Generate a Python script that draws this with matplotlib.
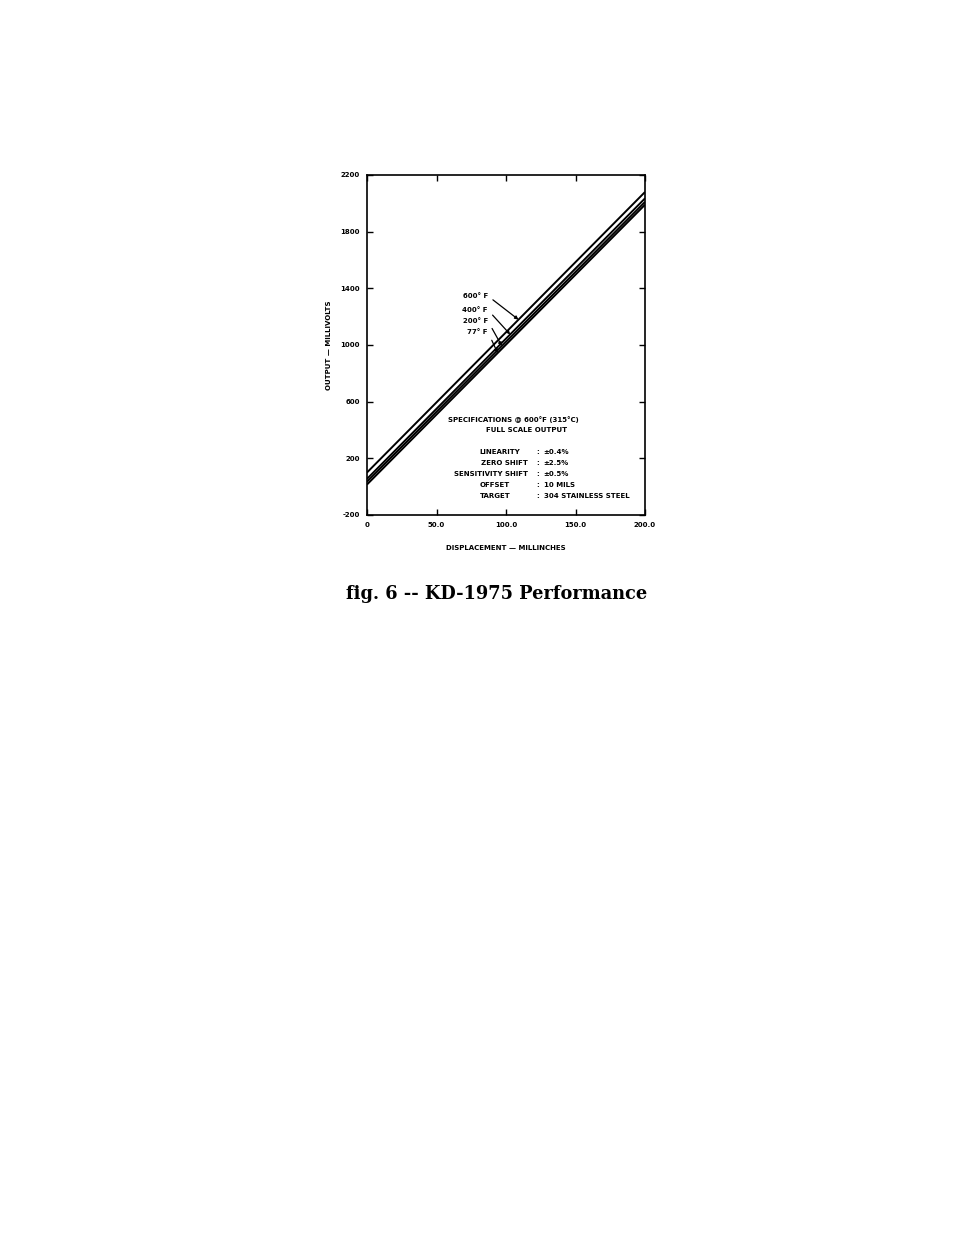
import numpy as np
import matplotlib.pyplot as plt

plt.rcParams['axes.unicode_minus'] = False

# output vs displacement at four temperatures
temps = ['600° F', '400° F', '200° F', '77° F']
disp = [0.0, 200.0]
out_600 = [100, 2080]
out_400 = [55, 2035]
out_200 = [35, 2010]
out_77 = [15, 1990]
# where each label arrow touches its line
arrow_x = [109, 103, 97, 94]
label_y = [1346, 1247, 1169, 1092]

xticks = [0, 50, 100, 150, 200]
xticklabels = ['0', '50.0', '100.0', '150.0', '200.0']
yticks = [-200, 200, 600, 1000, 1400, 1800, 2200]

spec_rows = [('LINEARITY', '±0.4%'),
             ('ZERO SHIFT', '±2.5%'),
             ('SENSITIVITY SHIFT', '±0.5%'),
             ('OFFSET', '10 MILS'),
             ('TARGET', '304 STAINLESS STEEL')]

fig = plt.figure(figsize=(9.54, 12.35), dpi=100)
ax = fig.add_axes([0.3847, 0.583, 0.2914, 0.2753])

series = [out_600, out_400, out_200, out_77]
for ys in series:
    ax.plot(disp, ys, color='black', lw=1.4, solid_capstyle='butt')

ax.set_xlim(0, 200)
ax.set_ylim(-200, 2200)
ax.set_xticks(xticks)
ax.set_xticklabels(xticklabels)
ax.set_yticks(yticks)
ax.tick_params(direction='in', length=4, width=1, top=True, right=True,
               labelsize=5, pad=5)
for lab in ax.get_xticklabels() + ax.get_yticklabels():
    lab.set_fontweight('bold')
for sp in ax.spines.values():
    sp.set_linewidth(1.2)

ax.set_xlabel('DISPLACEMENT — MILLINCHES', fontsize=5, fontweight='bold', labelpad=12)
ax.set_ylabel('OUTPUT — MILLIVOLTS', fontsize=5, fontweight='bold', labelpad=6)

# temperature labels with arrows
for name, ys, xa, yl in zip(temps, series, arrow_x, label_y):
    ya = ys[0] + (ys[1] - ys[0]) * xa / 200.0
    ax.annotate(name, xy=(xa, ya), xytext=(87, yl), fontsize=5, fontweight='bold',
                ha='right', va='center',
                arrowprops=dict(arrowstyle='-|>', color='black', lw=0.9,
                                mutation_scale=5, shrinkA=2, shrinkB=0,
                                relpos=(1.0, 0.5)))

# specification block
ax.text(105, 471, 'SPECIFICATIONS @ 600°F (315°C)', fontsize=5, fontweight='bold',
        ha='center', va='center')
ax.text(115, 400, 'FULL SCALE OUTPUT', fontsize=5, fontweight='bold',
        ha='center', va='center')
row_y = [245, 167, 90, 12, -66]
right_aligned = ['ZERO SHIFT', 'SENSITIVITY SHIFT']
for (k, v), yy in zip(spec_rows, row_y):
    if k in right_aligned:
        ax.text(116, yy, k, fontsize=5, fontweight='bold', ha='right', va='center')
    else:
        ax.text(81, yy, k, fontsize=5, fontweight='bold', ha='left', va='center')
    ax.text(123, yy, ':', fontsize=5, fontweight='bold', ha='center', va='center')
    ax.text(127, yy, v, fontsize=5, fontweight='bold', ha='left', va='center')

fig.text(0.521, 0.519, 'fig. 6 -- KD-1975 Performance', fontsize=12.8,
         fontweight='bold', family='DejaVu Serif', ha='center', va='center')

fig.savefig('out.png', dpi=100)
